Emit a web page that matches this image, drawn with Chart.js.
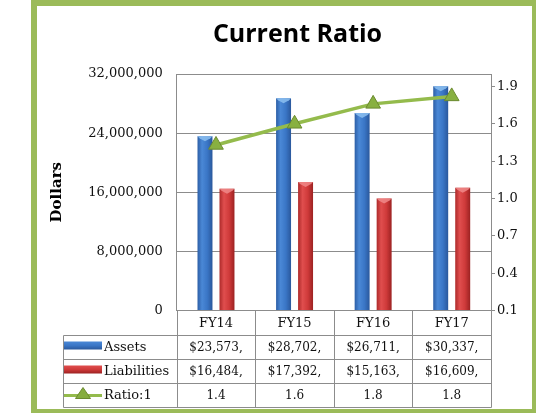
<!DOCTYPE html>
<html>
<head>
<meta charset="utf-8">
<script src="https://cdn.jsdelivr.net/npm/chart.js@4.4.1/dist/chart.umd.min.js"></script>
<style>
  html, body { margin: 0; padding: 0; background: #fff; overflow: hidden; }
  body { width: 536px; height: 413px; position: relative; }
  .frame {
    position: absolute; left: 31px; top: 0;
    width: 495px; height: 403px;
    border: 6px solid #9bbb59;
    background: #fff;
  }
  canvas { position: absolute; left: 0; top: 0; }
</style>
</head>
<body>
<div class="frame">
  <canvas id="chart" width="495" height="403"></canvas>
</div>
<script>
const categories = ['FY14', 'FY15', 'FY16', 'FY17']
const assets = [23573000, 28702000, 26711000, 30337000]
const liabilities = [16484000, 17392000, 15163000, 16609000]
const ratio = [1.43, 1.6, 1.76, 1.82]
const dollarTicks = [0, 8000000, 16000000, 24000000, 32000000]
const ratioTicks = [0.1, 0.4, 0.7, 1.0, 1.3, 1.6, 1.9]
const seriesNames = ['Assets', 'Liabilities', 'Ratio:1']

const CAT_PCT = 0.56
const BAR_PCT = 0.68
const SERIF = '"DejaVu Serif", serif'
const LINE_GRAY = '#8c8c8c'

// horizontal shading across each bar, like the old excel 3d look
const barFill = (stops, side) => (c) => {
  const chart = c.chart
  const xs = chart.scales.x
  if (!chart.chartArea || !xs || c.dataIndex === undefined) return stops[2]
  const slot = (xs.width / categories.length) * CAT_PCT / 2
  const cx = xs.getPixelForValue(c.dataIndex) + side * slot / 2
  const w = slot * BAR_PCT
  const g = chart.ctx.createLinearGradient(cx - w / 2, 0, cx + w / 2, 0)
  g.addColorStop(0, stops[0])
  g.addColorStop(0.3, stops[1])
  g.addColorStop(0.65, stops[2])
  g.addColorStop(1, stops[3])
  return g
}
const blueStops = ['#2c5ea6', '#4a88d6', '#3a76c6', '#2a589c']
const redStops = ['#ad2a2a', '#e04e4e', '#cf3a3a', '#9c2222']
const capColors = { 1: '#8cc0f0', 2: '#f08a8a' }

const fmtDollar = (v) => '$' + v.toLocaleString('en-US')

// light bevel on top of each bar, drawn right after its own dataset
const capPlugin = {
  id: 'barCaps',
  afterDatasetDraw(chart, args) {
    const color = capColors[args.index]
    if (!color) return
    const { ctx } = chart
    args.meta.data.forEach((bar) => {
      const hw = bar.width / 2
      ctx.save()
      ctx.fillStyle = color
      ctx.globalAlpha = 0.85
      ctx.beginPath()
      ctx.moveTo(bar.x - hw, bar.y)
      ctx.lineTo(bar.x + hw, bar.y)
      ctx.lineTo(bar.x + hw - 2, bar.y + 2)
      ctx.lineTo(bar.x, bar.y + 5)
      ctx.lineTo(bar.x - hw + 2, bar.y + 2)
      ctx.closePath()
      ctx.fill()
      ctx.restore()
    })
  },
}

const tablePlugin = {
  id: 'dataTable',
  afterDraw(chart) {
    const { ctx, chartArea, scales: { x } } = chart
    const colW = x.width / categories.length
    const top = chartArea.bottom
    const rowH = 24
    const legendLeft = 26
    const bottom = top + rowH * 4
    const px = (v) => Math.round(v) + 0.5

    ctx.save()
    ctx.strokeStyle = LINE_GRAY
    ctx.lineWidth = 1
    ctx.beginPath()
    for (let k = 0; k <= categories.length; k++) {
      const lx = px(x.left + k * colW)
      ctx.moveTo(lx, top)
      ctx.lineTo(lx, px(bottom))
    }
    ctx.moveTo(px(legendLeft), px(top + rowH))
    ctx.lineTo(px(legendLeft), px(bottom))
    for (let r = 1; r <= 4; r++) {
      ctx.moveTo(px(legendLeft), px(top + rowH * r))
      ctx.lineTo(px(x.right), px(top + rowH * r))
    }
    ctx.stroke()

    ctx.fillStyle = '#111'
    ctx.textBaseline = 'middle'
    ctx.textAlign = 'center'
    ctx.font = '13px ' + SERIF
    categories.forEach((c, i) => {
      ctx.fillText(c, x.getPixelForValue(i), top + rowH / 2 + 1)
    })

    const rows = [
      assets.map(fmtDollar),
      liabilities.map(fmtDollar),
      ratio.map((v) => v.toFixed(1)),
    ]
    ctx.font = '12px ' + SERIF
    rows.forEach((vals, r) => {
      const cy = top + rowH * (r + 1) + rowH / 2 + 1
      vals.forEach((s, i) => {
        let t = s
        while (ctx.measureText(t).width > colW - 18) t = t.slice(0, -1)
        ctx.fillText(t, x.getPixelForValue(i), cy)
      })
    })

    // legend keys
    const keyL = legendLeft + 1
    const keyR = legendLeft + 39
    const keyBar = (cy, stops) => {
      const g = ctx.createLinearGradient(0, cy - 4, 0, cy + 4)
      g.addColorStop(0, stops[1])
      g.addColorStop(0.5, stops[2])
      g.addColorStop(1, stops[3])
      ctx.fillStyle = g
      ctx.fillRect(keyL, cy - 4, keyR - keyL, 8)
    }
    const rowMid = (r) => top + rowH * (r + 1) + rowH / 2
    keyBar(rowMid(0) - 1, blueStops)
    keyBar(rowMid(1) - 1, redStops)

    const gy = rowMid(2) + 1
    ctx.strokeStyle = '#94bb4c'
    ctx.lineWidth = 3
    ctx.beginPath()
    ctx.moveTo(keyL, gy)
    ctx.lineTo(keyR, gy)
    ctx.stroke()
    const tx = (keyL + keyR) / 2
    ctx.fillStyle = '#86ad3f'
    ctx.strokeStyle = '#6b8a30'
    ctx.lineWidth = 1
    ctx.beginPath()
    ctx.moveTo(tx, gy - 8)
    ctx.lineTo(tx + 7.5, gy + 3)
    ctx.lineTo(tx - 7.5, gy + 3)
    ctx.closePath()
    ctx.fill()
    ctx.stroke()

    ctx.fillStyle = '#111'
    ctx.textAlign = 'left'
    ctx.font = '13px ' + SERIF
    seriesNames.forEach((n, r) => {
      ctx.fillText(n, keyR + 2, rowMid(r) + 1)
    })
    ctx.restore()
  },
}

const ctx = document.getElementById('chart').getContext('2d')

new Chart(ctx, {
  type: 'bar',
  data: {
    labels: categories,
    datasets: [
      {
        type: 'line',
        label: seriesNames[2],
        data: ratio,
        yAxisID: 'y1',
        order: 0,
        borderColor: '#94bb4c',
        borderWidth: 3.5,
        pointStyle: 'triangle',
        pointRadius: 8.5,
        pointBackgroundColor: '#88b041',
        pointBorderColor: '#6b8a30',
        pointBorderWidth: 1,
        tension: 0,
      },
      {
        label: seriesNames[0],
        data: assets,
        yAxisID: 'y',
        order: 1,
        backgroundColor: barFill(blueStops, -1),
        categoryPercentage: CAT_PCT,
        barPercentage: BAR_PCT,
      },
      {
        label: seriesNames[1],
        data: liabilities,
        yAxisID: 'y',
        order: 1,
        backgroundColor: barFill(redStops, 1),
        categoryPercentage: CAT_PCT,
        barPercentage: BAR_PCT,
      },
    ],
  },
  options: {
    responsive: false,
    animation: false,
    devicePixelRatio: 1,
    layout: { padding: { left: 26, right: 0, top: 0, bottom: 0 } },
    plugins: {
      legend: { display: false },
      tooltip: { enabled: false },
      title: {
        display: true,
        text: 'Current Ratio',
        color: '#000',
        font: { family: '"Open Sans", sans-serif', size: 25, weight: 'bold', lineHeight: 1.2 },
        padding: { top: 14, bottom: 24 },
      },
    },
    scales: {
      x: {
        ticks: { display: false },
        grid: { display: false },
        border: { display: false },
        afterFit: (s) => { s.height = 98.5 },
      },
      y: {
        position: 'left',
        min: 0,
        max: 32000000,
        afterBuildTicks: (s) => { s.ticks = dollarTicks.map((v) => ({ value: v })) },
        ticks: {
          padding: 14,
          color: '#111',
          font: { family: SERIF, size: 13 },
          callback: (v) => v.toLocaleString('en-US'),
        },
        grid: { color: LINE_GRAY, drawTicks: false },
        border: { color: LINE_GRAY },
        title: {
          display: true,
          text: 'Dollars',
          color: '#000',
          font: { family: SERIF, size: 15, weight: 'bold', lineHeight: 1.2 },
          padding: { top: -15, bottom: 0 },
        },
        afterFit: (s) => { s.width = 113.7 },
      },
      y1: {
        position: 'right',
        min: 0.1,
        max: 2.0,
        afterBuildTicks: (s) => { s.ticks = ratioTicks.map((v) => ({ value: v })) },
        ticks: {
          padding: 2,
          color: '#111',
          font: { family: SERIF, size: 13 },
          callback: (v) => v.toFixed(1),
        },
        grid: { drawOnChartArea: false, color: LINE_GRAY, tickLength: 4 },
        border: { color: LINE_GRAY },
        afterFit: (s) => { s.width = 41 },
      },
    },
  },
  plugins: [capPlugin, tablePlugin],
})
</script>
</body>
</html>
